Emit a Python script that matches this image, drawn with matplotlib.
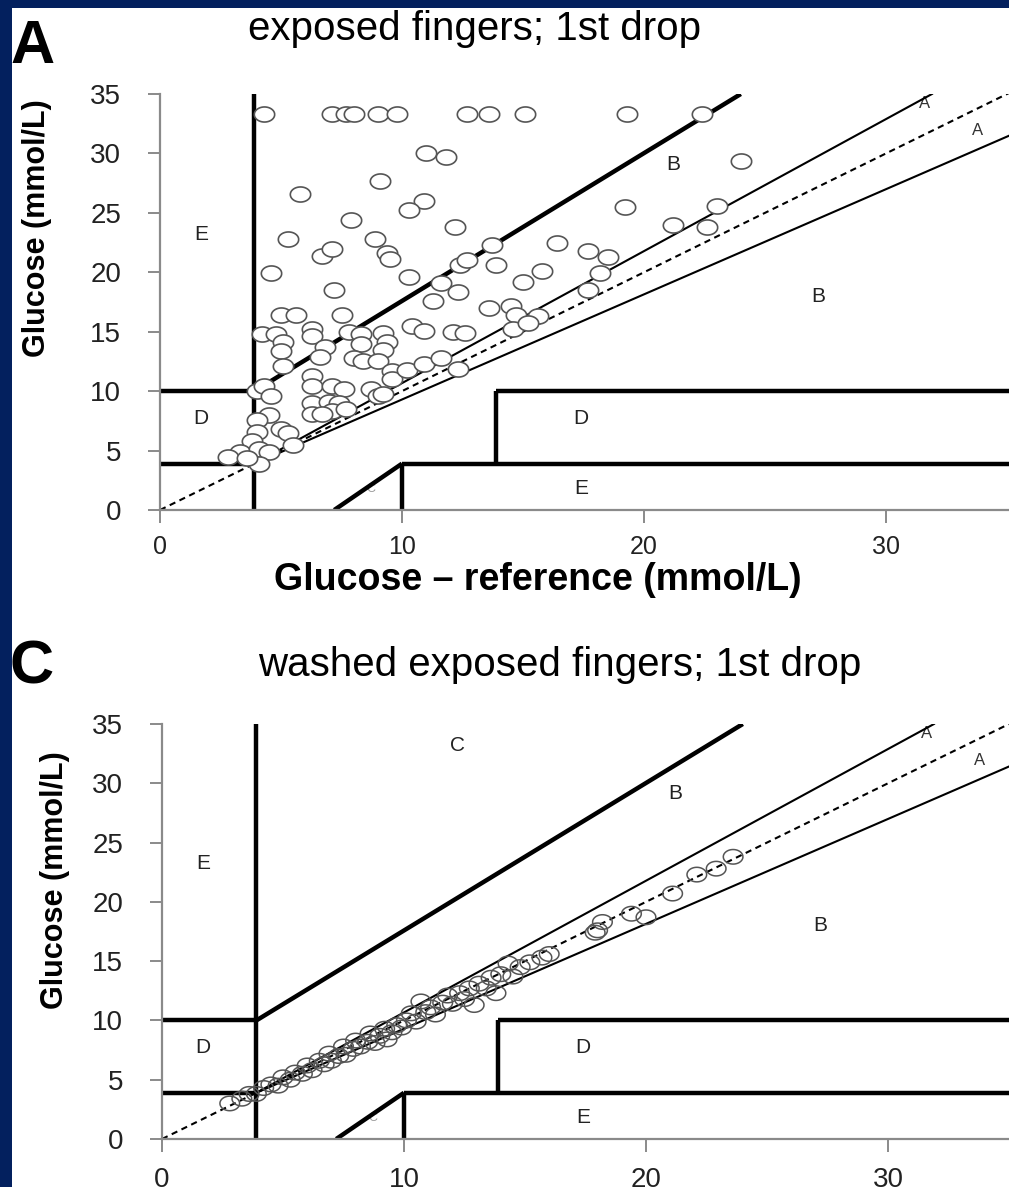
import numpy as np
import matplotlib
matplotlib.use("Agg")
import matplotlib.pyplot as plt
from matplotlib.path import Path
from matplotlib.patches import Rectangle

plt.rcParams['font.family'] = ['Liberation Sans', 'DejaVu Sans']

# panel A: exposed fingers, 1st drop (reference, meter) in mmol/L
ax_ref = [4.3, 7.1, 7.7, 8.0, 9.0, 9.8, 12.7, 13.6, 15.1, 19.3, 22.4,
          11.0, 11.8, 9.1, 5.8, 10.9, 10.3, 7.9, 12.2, 24.0, 19.2, 23.0, 21.2, 22.6,
          5.3, 8.9, 6.7, 7.1, 9.4, 9.5, 13.7, 12.4, 12.7, 13.9, 4.6, 10.3, 11.6, 12.3,
          11.3, 7.2, 16.4, 17.7, 18.5, 15.8, 15.0, 18.2, 17.7, 13.6, 14.5, 14.7, 15.6, 14.6,
          5.0, 5.6, 7.5, 10.4, 10.9, 12.1, 12.6, 4.2, 4.8, 5.1, 5.0, 6.3, 6.3, 6.8, 6.6,
          7.8, 8.3, 8.3, 8.0, 8.4, 9.2, 9.4, 9.2, 9.0, 9.6, 9.6, 10.2, 10.9, 11.6, 12.3, 5.1,
          4.0, 4.3, 4.6, 6.3, 6.3, 7.1, 7.6, 6.3, 7.0, 7.4, 7.1, 7.7, 6.3, 6.7, 8.7, 9.0,
          9.2, 4.5, 4.0, 5.0, 4.0, 3.8, 3.3, 2.8, 4.1, 4.5, 4.1, 5.3, 5.5, 3.6, 15.2]
ay_meter = [33.3, 33.3, 33.3, 33.3, 33.3, 33.3, 33.3, 33.3, 33.3, 33.3, 33.3,
            30.0, 29.7, 27.7, 26.6, 26.0, 25.2, 24.4, 23.8, 29.4, 25.5, 25.6, 24.0, 23.8,
            22.8, 22.8, 21.4, 22.0, 21.6, 21.1, 22.3, 20.6, 21.0, 20.6, 19.9, 19.6, 19.1, 18.3,
            17.6, 18.5, 22.5, 21.8, 21.3, 20.1, 19.2, 19.9, 18.5, 17.0, 17.2, 16.4, 16.3, 15.2,
            16.4, 16.4, 16.4, 15.5, 15.1, 15.0, 14.9, 14.8, 14.8, 14.1, 13.4, 15.2, 14.6, 13.7, 12.9,
            15.0, 14.8, 14.0, 12.8, 12.5, 14.9, 14.1, 13.5, 12.5, 11.7, 11.0, 11.8, 12.3, 12.8, 11.9, 12.1,
            10.0, 10.4, 9.6, 11.3, 10.4, 10.4, 10.2, 9.0, 9.1, 9.0, 8.3, 8.5, 8.1, 8.1, 10.2, 9.6,
            9.8, 8.0, 7.6, 6.8, 6.6, 5.8, 4.9, 4.5, 5.1, 4.9, 3.9, 6.5, 5.5, 4.4, 15.7]

# panel C: washed exposed fingers, 1st drop
cx_ref = [2.8, 3.3, 3.6, 3.9, 4.2, 4.5, 4.8, 5.0, 5.3, 5.5, 5.8, 6.0, 6.2, 6.5, 6.7,
          6.9, 7.0, 7.3, 7.5, 7.6, 7.9, 8.0, 8.2, 8.5, 8.6, 8.8, 9.0, 9.2, 9.3, 9.5,
          9.7, 9.9, 10.1, 10.3, 10.5, 10.7, 10.9, 11.1, 11.3, 11.6, 11.8, 12.0, 12.3, 12.5,
          12.7, 12.9, 13.1, 13.4, 13.6, 13.8, 14.0, 14.3, 14.5, 14.8, 15.2, 15.7, 16.0,
          17.9, 18.2, 18.0, 19.4, 20.0, 21.1, 22.1, 22.9, 23.6]
cy_meter = [3.0, 3.4, 3.8, 3.8, 4.3, 4.6, 4.5, 5.2, 5.0, 5.6, 5.5, 6.2, 5.8, 6.6, 6.3,
            7.2, 6.6, 7.0, 7.8, 7.1, 7.6, 8.3, 7.8, 8.2, 8.9, 8.1, 8.7, 9.3, 8.4, 9.0,
            9.6, 9.4, 10.0, 10.6, 9.9, 11.6, 10.7, 11.1, 10.5, 11.5, 12.1, 11.4, 12.3, 11.8,
            12.7, 11.3, 13.1, 12.7, 13.6, 12.3, 13.9, 14.8, 13.7, 14.5, 14.9, 15.3, 15.6,
            17.4, 18.3, 17.6, 19.0, 18.7, 20.7, 22.3, 22.8, 23.8]

# error grid boundaries (x list, y list, kind)
grid_lines = [
    ([3.9, 3.9], [0, 35], 'thick'),
    ([0, 3.9], [10, 10], 'thick'),
    ([0, 3.9], [3.9, 3.9], 'thick'),
    ([3.9, 24.0], [10, 35], 'thick'),
    ([7.2, 10], [0, 3.9], 'thick'),
    ([10, 10], [0, 3.9], 'thick'),
    ([10, 36], [3.9, 3.9], 'thick'),
    ([13.9, 13.9], [3.9, 10], 'thick'),
    ([13.9, 36], [10, 10], 'thick'),
    ([3.9, 31.9], [3.9, 35], 'thin'),
    ([3.9, 36], [3.9, 32.3], 'thin'),
    ([0, 36], [0, 36], 'dash'),
]
zone_labels = [('E', 1.7, 23.2), ('D', 1.7, 7.7), ('B', 21.2, 29.1), ('B', 27.2, 18.0),
               ('D', 17.4, 7.7), ('E', 17.4, 1.8)]
a_labels = [('A', 31.6, 34.2), ('A', 33.8, 31.9)]

W, H = 1009, 1187
navy = '#03205e'
grey = '#8a8a8a'

fig = plt.figure(figsize=(W / 100, H / 100), dpi=100, facecolor=navy)
fig.add_artist(Rectangle((12 / W, 0), 1, 1 - 8 / H, transform=fig.transFigure,
                         facecolor='white', edgecolor='none', zorder=-5))

t = np.linspace(0, 2 * np.pi, 60)
ellipse = Path(np.column_stack([1.35 * np.cos(t), np.sin(t)]))


def px(x, y):
    return x / W, 1 - y / H


def setup(ax, xmax):
    ax.set_xlim(0, xmax)
    ax.set_ylim(0, 35)
    ax.patch.set_alpha(0)
    for s in ['top', 'right']:
        ax.spines[s].set_visible(False)
    for s in ['left', 'bottom']:
        ax.spines[s].set_color(grey)
        ax.spines[s].set_linewidth(1.6)
    ax.set_xticks([0, 10, 20, 30])
    ax.set_yticks(range(0, 36, 5))
    ax.tick_params(axis='both', direction='out', length=9, width=1.4, color=grey,
                   labelcolor='#222222')
    ax.tick_params(axis='y', pad=19, labelsize=20)
    ax.tick_params(axis='x', pad=9, labelsize=18)
    for xs, ys, kind in grid_lines:
        if kind == 'thick':
            ax.plot(xs, ys, color='black', lw=3.2, solid_capstyle='butt', zorder=2)
        elif kind == 'thin':
            ax.plot(xs, ys, color='black', lw=1.5, zorder=2)
        else:
            ax.plot(xs, ys, color='black', lw=1.5, dashes=(3, 2.2), zorder=2)
    for s, x, y in zone_labels:
        ax.text(x, y, s, fontsize=15, ha='center', va='center', color='#222222', zorder=1)
    for s, x, y in a_labels:
        ax.text(x, y, s, fontsize=12, ha='center', va='center', color='#333333', zorder=1)
    ax.text(8.7, 1.8, 'C', fontsize=9, ha='center', va='center', color='#999999', zorder=1)


axA = fig.add_axes([160 / W, 1 - 510 / H, 849 / W, 416 / H])
setup(axA, 849 / 24.2)
axA.scatter(ax_ref, ay_meter, s=215, marker=ellipse, facecolor='white',
            edgecolor='#555555', linewidth=1.2, zorder=3)

axC = fig.add_axes([162 / W, 1 - 1139 / H, 847 / W, 415 / H])
setup(axC, 847 / 24.2)
axC.text(12.2, 33.2, 'C', fontsize=15, ha='center', va='center', color='#222222')
axC.scatter(cx_ref, cy_meter, s=200, marker=ellipse, facecolor='none',
            edgecolor='#555555', linewidth=1.1, zorder=3)
axC.tick_params(axis='x', pad=11, labelsize=20)

fig.text(*px(10, 63), 'A', fontsize=44, fontweight='bold', ha='left', va='baseline')
fig.text(*px(248, 40), 'exposed fingers; 1st drop', fontsize=29, ha='left', va='baseline')
fig.text(*px(10, 683), 'C', fontsize=44, fontweight='bold', ha='left', va='baseline')
fig.text(*px(258, 676), 'washed exposed fingers; 1st drop', fontsize=29, ha='left', va='baseline')

fig.text(*px(37, 228), 'Glucose (mmol/L)', fontsize=22, fontweight='bold', rotation=90,
         ha='center', va='center')
fig.text(*px(55, 880), 'Glucose (mmol/L)', fontsize=22, fontweight='bold', rotation=90,
         ha='center', va='center')
fig.text(*px(538, 580), 'Glucose \u2013 reference (mmol/L)', fontsize=27, fontweight='bold',
         ha='center', va='center')

fig.savefig('out.png', dpi=100, facecolor=navy)
